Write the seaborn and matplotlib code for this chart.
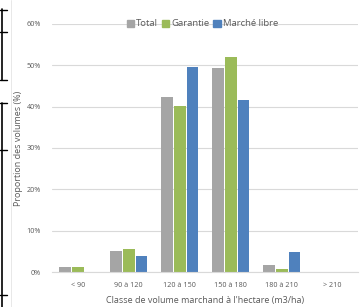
import pandas as pd
import matplotlib.pyplot as plt
import seaborn as sns
from matplotlib.lines import Line2D

# Volume classes and shares (%)
classes = ["< 90", "90 à 120", "120 à 150", "150 à 180", "180 à 210", "> 210"]
total = [1.1, 5.1, 42.4, 49.3, 1.8, 0.0]
garantie = [1.1, 5.6, 40.2, 52.1, 0.8, 0.0]
marche_libre = [0.0, 3.8, 49.7, 41.7, 4.8, 0.0]
series = ["Total", "Garantie", "Marché libre"]
colors = ["#A5A5A5", "#9BBB59", "#4F81BD"]

df = pd.DataFrame({
    "classe": classes * 3,
    "serie": [s for s in series for _ in classes],
    "valeur": total + garantie + marche_libre,
})

sns.set_style("white")
plt.rcParams['font.family'] = ['Open Sans', 'DejaVu Sans']

fig = plt.figure(figsize=(3.6, 3.07), dpi=100)
ax = fig.add_axes([0.145, 0.114, 0.85, 0.808])

sns.barplot(data=df, x="classe", y="valeur", hue="serie", palette=colors,
            saturation=1, width=0.76, gap=0.1, edgecolor="none", ax=ax)

ax.set_ylim(0, 60)
ax.set_yticks(range(0, 61, 10))
ax.set_yticklabels([f"{v}%" for v in range(0, 61, 10)])
ax.yaxis.grid(True, color="#D9D9D9", linewidth=0.8)
ax.set_axisbelow(True)
for side in ["top", "right", "left"]:
    ax.spines[side].set_visible(False)
ax.spines["bottom"].set_color("#D9D9D9")
ax.tick_params(axis="y", length=0, labelsize=5.2, colors="#595959", pad=8)
ax.tick_params(axis="x", length=0, labelsize=5.2, colors="#595959", pad=7)

ax.set_xlabel("Classe de volume marchand à l'hectare (m3/ha)", fontsize=6.5,
              color="#595959", labelpad=5)
ax.set_ylabel("Proportion des volumes (%)", fontsize=6.5, color="#595959", labelpad=3)

handles = [plt.Rectangle((0, 0), 1, 1, color=c) for c in colors]
ax.legend(handles, series, loc="center", bbox_to_anchor=(0.49, 1.0), ncol=3,
          frameon=False, fontsize=6.8, handlelength=0.8, handleheight=0.8,
          handletextpad=0.2, columnspacing=0.4, labelcolor="#595959")

# border fragments at the left edge of the crop
for seg in [((0.006, 0.006), (0.97, 0.74)), ((0.006, 0.006), (0.665, 0.0))]:
    fig.add_artist(Line2D(seg[0], seg[1], color="black", linewidth=1.2))
for y in [0.967, 0.895, 0.74, 0.665, 0.51, 0.04]:
    fig.add_artist(Line2D((0.0, 0.02), (y, y), color="black", linewidth=1.0))
fig.add_artist(Line2D((0.03, 0.03), (0.0, 1.0), color="#E4E4E4", linewidth=0.6))

plt.savefig("out.png", dpi=100)
